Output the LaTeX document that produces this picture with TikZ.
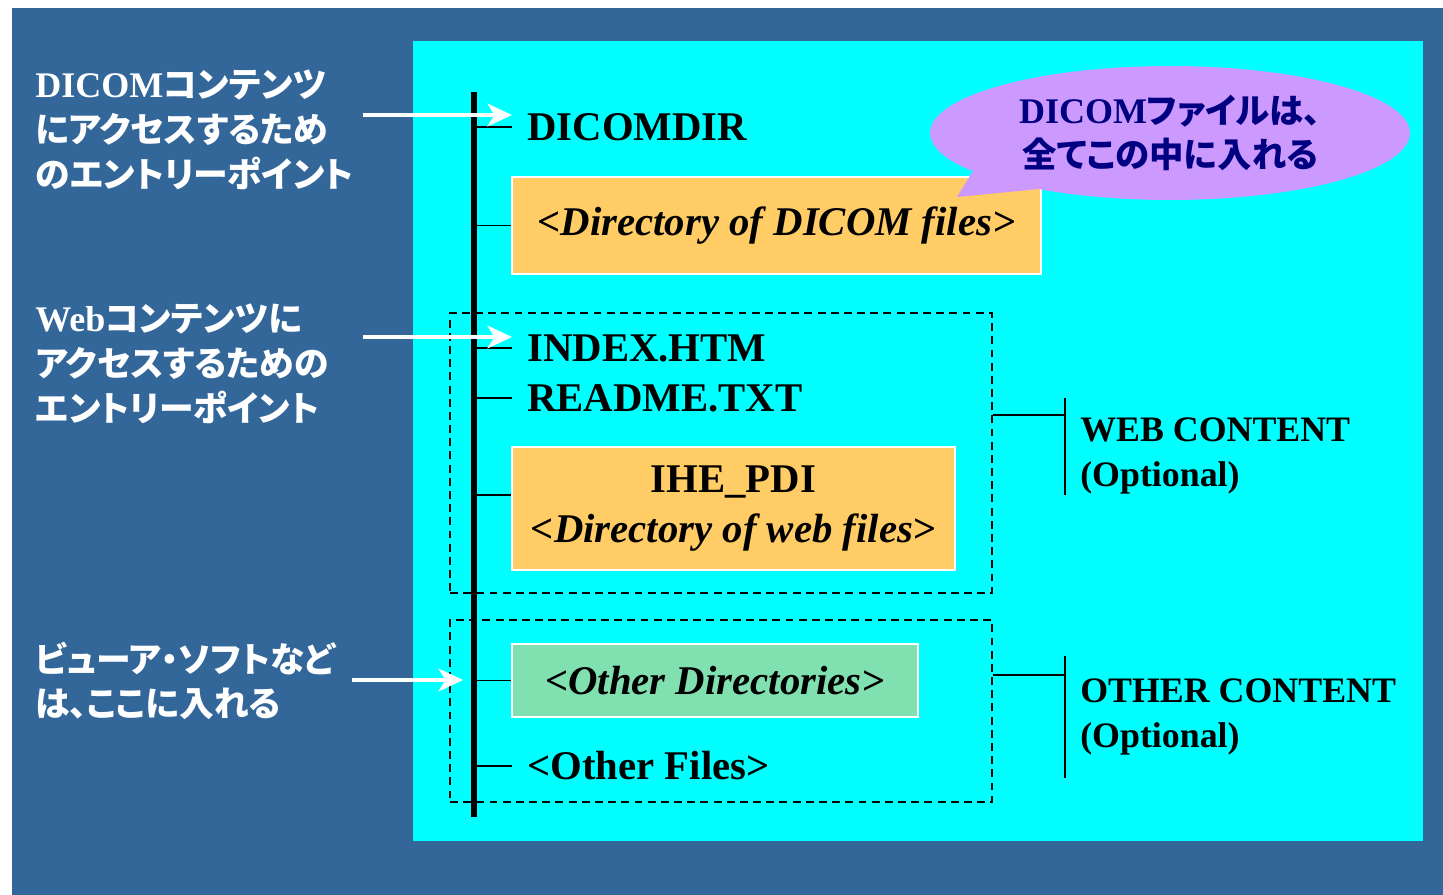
\documentclass[tikz,border=0pt]{standalone}
\usepackage{fontspec}
\setmainfont{Liberation Serif}
\newfontfamily\jp{Noto Sans CJK JP}[RawFeature=+palt]
\usetikzlibrary{arrows.meta,shapes.geometric}
\definecolor{slate}{RGB}{51,102,153}
\definecolor{panel}{RGB}{0,255,255}
\definecolor{folder}{RGB}{255,204,102}
\definecolor{otherdir}{RGB}{128,224,176}
\definecolor{lilac}{RGB}{204,153,255}
\definecolor{ink}{RGB}{0,0,128}
\newcommand\ja[1]{{\jp #1}}
\newcommand\lat[1]{{\fontsize{20.5}{25.5}\selectfont #1}}

\begin{document}
\begin{tikzpicture}[
                    x=0.02cm, y=-0.02cm,
                    every node/.style={inner sep=0pt},
                    trunk/.style={line width=3.4pt},
                    tick/.style={line width=1.1pt},
                    entry/.style={anchor=west, inner xsep=8.5pt, font=\fontsize{23.2}{28}\selectfont\bfseries},
                    folderbox/.style={fill=folder, draw=white, line width=0.8pt, align=center,
                                      font=\fontsize{23.2}{28.3}\selectfont\bfseries\itshape},
                    group/.style={draw, line width=0.8pt, dash pattern=on 4.5pt off 3pt},
                    brace/.style={line width=1.1pt},
                    part/.style={anchor=west, inner xsep=8.5pt, align=left, font=\fontsize{20.4}{25.5}\selectfont\bfseries},
                    note/.style={anchor=west, align=left, text=white, font=\fontsize{19.8}{25.5}\selectfont\bfseries},
                    bubble/.style={ellipse, fill=lilac, align=center, text=ink, font=\fontsize{19.6}{25.5}\selectfont\bfseries},
                    pointer/.style={white, line width=2pt, -{Stealth[length=14pt,width=13pt,inset=4pt]}},
                ]
                \fill[white] (0,0) rectangle (1443,895);
                \fill[slate] (12,8) rectangle (1443,895);
                \fill[panel] (413,41) rectangle (1423,841);
                \useasboundingbox (0,0) rectangle (1443,895);

                \node[group, minimum width=10.84cm, minimum height=5.6cm] (web) at (721,453) {};
                \node[group, minimum width=10.84cm, minimum height=3.64cm] (rest) at (721,711) {};

                \coordinate (ttop) at (474,92);
                \coordinate (tbot) at (474,817);

                \node[entry] (ddir) at (512,127) {DICOMDIR};
                \node[folderbox, minimum width=10.58cm, minimum height=1.94cm] (dcm) at (776.5,225.5) {<Directory of DICOM files>};
                \node[entry] (idx) at (512,348) {INDEX.HTM};
                \node[entry] (rdm) at (512,398) {README.TXT};
                \node[folderbox, minimum width=8.86cm, minimum height=2.46cm] (ihe) at (733.5,508.5) {{\upshape IHE\_PDI}\\<Directory of web files>};
                \node[folderbox, fill=otherdir, minimum width=8.12cm, minimum height=1.46cm] (odir) at (715,680.5) {<Other Directories>};
                \node[entry] (ofile) at (512,766) {<Other Files>};

                \draw[trunk] (ttop) -- (tbot);
                \foreach \n in {ddir,dcm,idx,rdm,odir,ofile}
                    \draw[tick] (ttop |- \n.west) -- (\n.west);
                \coordinate (ihetick) at ([yshift=7.65pt]ihe.west);
                \draw[tick] (ttop |- ihetick) -- (ihetick);

                \node[part, minimum height=1.94cm] (wlab) at (1065,456) {WEB CONTENT\\(Optional)};
                \node[part, minimum height=2.44cm] (olab) at (1065,717) {OTHER CONTENT\\(Optional)};
                \draw[brace] ([yshift=5.4pt]wlab.north west) -- ([yshift=5.4pt]wlab.south west);
                \draw[brace] (web.east |- 0,415) -- (wlab.west |- 0,415);
                \draw[brace] (olab.north west) -- (olab.south west);
                \draw[brace] (rest.east |- 0,675) -- (olab.west |- 0,675);

                \node[bubble, minimum width=9.6cm, minimum height=2.68cm] (bub) at (1170,133) {\lat{DICOM}\ja{ファイルは、}\\\ja{全てこの中に入れる}};
                \coordinate (tip) at (957,197);
                \fill[lilac] (bub.191) -- (tip) -- (bub.203) -- cycle;

                \node[note] (n1) at (35,130) {\lat{DICOM}\ja{コンテンツ}\\\ja{にアクセスするため}\\\ja{のエントリーポイント}};
                \node[note] (n2) at (35,364) {\lat{Web}\ja{コンテンツに}\\\ja{アクセスするための}\\\ja{エントリーポイント}};
                \node[note] (n3) at (35,681) {\ja{ビューア・ソフトなど}\\\ja{は、ここに入れる}};

                \coordinate (p1) at (363,115);
                \coordinate (p2) at (363,337);
                \coordinate (p3) at (352,680);
                \draw[pointer] (p1) -- (p1 -| ddir.west);
                \draw[pointer] (p2) -- (p2 -| idx.west);
                \draw[pointer, shorten >=6.2pt] (p3) -- (p3 -| ttop);
                \end{tikzpicture}
\end{document}
